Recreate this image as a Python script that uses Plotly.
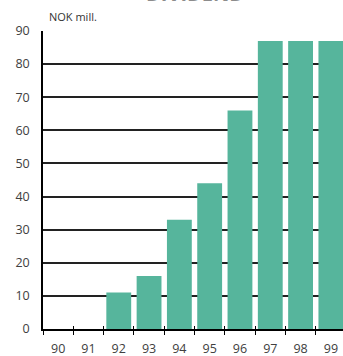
import plotly.graph_objects as go

years = ["90", "91", "92", "93", "94", "95", "96", "97", "98", "99"]
dividend = [0, 0, 11, 16, 33, 44, 66, 87, 87, 87]
y_ticks = [0, 10, 20, 30, 40, 50, 60, 70, 80, 90]

font_family = "Open Sans, Noto Sans, sans-serif"
text_col = "#404040"

fig = go.Figure()
fig.add_trace(go.Bar(x=years, y=dividend, marker=dict(color="#56b59c", line=dict(width=0)),
                     showlegend=False, hoverinfo="skip"))
fig.add_trace(go.Scatter(x=years, y=dividend, xaxis="x2", mode="none",
                         showlegend=False, hoverinfo="skip"))

fig.update_layout(
    width=343, height=356,
    margin=dict(l=43, r=0, t=31, b=27),
    paper_bgcolor="white", plot_bgcolor="white",
    bargap=0.18,
    font=dict(family=font_family, size=12, color=text_col),
    xaxis=dict(type="category", categoryorder="array", categoryarray=years,
               range=[-0.5, 9.4], tickson="boundaries", ticks="outside", ticklen=4,
               tickwidth=1.2, tickcolor="black", showline=True, linecolor="black",
               linewidth=1.5, showgrid=False, zeroline=False, automargin=False,
               ticklabelstandoff=7, tickfont=dict(size=12.5, color=text_col),
               fixedrange=True),
    xaxis2=dict(type="category", overlaying="x", matches="x", side="bottom",
                categoryorder="array", categoryarray=years, automargin=False,
                tickson="boundaries", ticks="inside", ticklen=3, tickwidth=1.2,
                tickcolor="black", showticklabels=False, showline=False,
                showgrid=False, zeroline=False),
    yaxis=dict(range=[0, 90], tickvals=y_ticks, showgrid=True, gridcolor="#222222",
               gridwidth=1.5, showline=True, linecolor="black", linewidth=1.5,
               zeroline=False, ticks="", ticklabelstandoff=9, automargin=False,
               tickfont=dict(size=12.5, color=text_col), fixedrange=True),
    annotations=[
        dict(text="<b>DIVIDEND</b>", xref="paper", yref="paper", x=0.507, y=1.075,
             xanchor="center", yanchor="bottom", showarrow=False,
             font=dict(size=20, color="#8c8c8c", family=font_family)),
        dict(text="NOK mill.", xref="paper", yref="paper", x=0.013, y=1.05,
             xanchor="left", yanchor="middle", showarrow=False,
             font=dict(size=11, color="#333333", family=font_family)),
    ],
)

fig.write_html("out.html")
